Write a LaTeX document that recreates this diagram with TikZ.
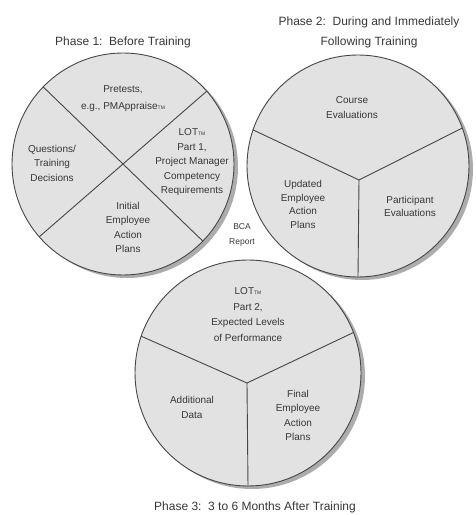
\documentclass[tikz,border=0pt]{standalone}
\usepackage{fontspec}
\setmainfont{Liberation Sans}
\usetikzlibrary{calc}
\definecolor{discfill}{RGB}{226,226,226}
\definecolor{discshade}{RGB}{172,172,172}
\definecolor{rimgray}{RGB}{70,70,70}
\definecolor{txtgray}{RGB}{55,55,55}
\newcommand{\tmark}{{\fontsize{5}{5}\selectfont TM}}
\tikzset{
    ttl/.style={
        font=\fontsize{12}{20}\selectfont, text=txtgray, align=center
    }
}

\begin{document}
\begin{tikzpicture}[x=1pt,y=1pt, line cap=round, line join=round]

% background
\useasboundingbox (0,0) rectangle (475,515);

\tikzset{
  disc/.style={draw=rimgray, fill=discfill, line width=0.9pt},
  shade/.style={fill=discshade},
  spoke/.style={draw=rimgray, line width=0.9pt},
  seg/.style={font=\fontsize{10}{14.5}\selectfont, text=txtgray, align=center, inner sep=0pt},
}

% centres
\coordinate (C1) at (123,351);
\coordinate (C2) at (358,349);
\coordinate (C3) at (248,142);

% hubs of the three-way discs
\coordinate (J2) at ($(C2)+(1,-14)$);
\coordinate (J3) at ($(C3)+(-1,-10)$);

% shadows
\fill[shade] ($(C1)+(4,-3)$) circle (111);
\fill[shade] ($(C2)+(4,-3)$) circle (111);
\fill[shade] ($(C3)+(4,-3)$) circle (113);

% discs
\draw[disc] (C1) circle (111);
\draw[disc] (C2) circle (111);
\draw[disc] (C3) circle (113);

% disc 1: four parts
\draw[spoke] ($(C1)+(136:111)$) -- ($(C1)+(316:111)$);
\draw[spoke] ($(C1)+(41:111)$) -- ($(C1)+(221:111)$);

% disc 2: three parts
\draw[spoke] ($(C2)+(161:111)$) -- (J2);
\draw[spoke] ($(C2)+(20:111)$) -- (J2);
\draw[spoke] (J2) -- ($(C2)+(270:111)$);

% disc 3: three parts
\draw[spoke] ($(C3)+(161:113)$) -- (J3);
\draw[spoke] ($(C3)+(21:113)$) -- (J3);
\draw[spoke] (J3) -- ($(C3)+(270:113)$);

% titles
\node[ttl] (t1) at (123,473) {Phase 1:\ \ Before Training};
\node[ttl] (t2) at (369,483) {Phase 2:\ \ During and Immediately\\Following Training};
\node[ttl] (t3) at (255,8) {Phase 3:\ \ 3 to 6 Months After Training};

\node[seg, font=\fontsize{8.5}{15}\selectfont] (bca) at (242,280) {BCA\\Report};

% disc 1 labels
\node[seg, font=\fontsize{10}{16.5}\selectfont] (pre) at (123,416.5) {Pretests,\\e.g., PMAppraise\tmark};
\node[seg] (lot1) at (192,352.5) {LOT\tmark\\Part 1,\\Project Manager\\Competency\\Requirements};
\node[seg] (qst) at (52,352) {Questions/\\Training\\Decisions};
\node[seg] (ini) at (128,287.5) {Initial\\Employee\\Action\\Plans};

% disc 2 labels
\node[seg] (crs) at (352,407.5) {Course\\Evaluations};
\node[seg, font=\fontsize{10}{13.5}\selectfont] (upd) at (303,310.5) {Updated\\Employee\\Action\\Plans};
\node[seg, font=\fontsize{10}{13.5}\selectfont] (par) at (410,308.5) {Participant\\Evaluations};

% disc 3 labels
\node[seg, font=\fontsize{10}{15.5}\selectfont] (lot2) at (248,200.5) {LOT\tmark\\Part 2,\\Expected Levels\\of Performance};
\node[seg] (add) at (192,107.5) {Additional\\Data};
\node[seg] (fin) at (298,99.5) {Final\\Employee\\Action\\Plans};

  \end{tikzpicture}
\end{document}
